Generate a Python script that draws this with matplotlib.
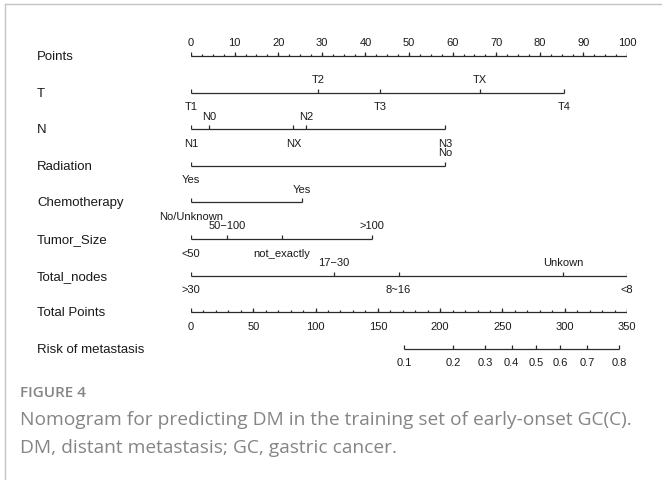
import numpy as np
import matplotlib
matplotlib.use("Agg")
import matplotlib.pyplot as plt
from matplotlib.lines import Line2D

# Nomogram rows: variable name, level labels, points for each level
row_names = ["Points", "T", "N", "Radiation", "Chemotherapy", "Tumor_Size",
             "Total_nodes", "Total Points", "Risk of metastasis"]

t_levels = ["T1", "T2", "T3", "TX", "T4"]
t_points = [0, 29.2, 43.4, 66.3, 85.6]

n_levels = ["N1", "N0", "NX", "N2", "N3"]
n_points = [0, 4.2, 23.5, 26.4, 58.3]

rad_levels = ["Yes", "No"]
rad_points = [0, 58.3]

chemo_levels = ["No/Unknown", "Yes"]
chemo_points = [0, 25.4]

size_levels = ["<50", "50\u2212100", "not_exactly", ">100"]
size_points = [0, 8.2, 20.8, 41.4]

nodes_levels = [">30", "17\u221230", "8~16", "Unkown", "<8"]
nodes_points = [0, 32.8, 47.6, 85.4, 100]

# total points scale and risk scale
total_max = 350
total_ticks = [0, 50, 100, 150, 200, 250, 300, 350]
risk_ticks = [0.1, 0.2, 0.3, 0.4, 0.5, 0.6, 0.7, 0.8]
total_at_half = 277.0      # total points where risk = 0.5
total_per_logit = 48.2     # total points per unit of linear predictor

variables = [
    (t_levels, t_points),
    (n_levels, n_points),
    (rad_levels, rad_points),
    (chemo_levels, chemo_points),
    (size_levels, size_points),
    (nodes_levels, nodes_points),
]

plt.rcParams['font.family'] = ['Liberation Sans', 'DejaVu Sans']

W, H = 662, 481
fig = plt.figure(figsize=(W / 100, H / 100), dpi=100)

row_gap = 36.6
y_first = 57.0
top_px = y_first - row_gap / 2
bot_px = y_first + row_gap * 8 + row_gap / 2
x0_px, x1_px = 191, 627
ax = fig.add_axes([x0_px / W, 1 - bot_px / H, (x1_px - x0_px) / W, (bot_px - top_px) / H])
ax.set_xlim(0, 100)
ax.set_ylim(8.5, -0.5)
ax.axis('off')

line_kw = dict(color='#2b2b2b', lw=0.9, solid_capstyle='butt')
px = 1 / row_gap          # one pixel in row units
tick_len = 4 * px
minor_len = 2 * px
txt_kw = dict(fontsize=8, color='#1a1a1a', ha='center', va='center',
              textcoords='offset points')
off_up, off_dn = 9.8, -9.8


def draw_axis(row, pos, labels, major, minor=(), side='below'):
    ax.plot([min(pos + list(minor)), max(pos + list(minor))], [row, row], **line_kw)
    for p in minor:
        ax.plot([p, p], [row, row - minor_len], **line_kw)
    for p, lab in zip(pos, labels):
        ax.plot([p, p], [row, row - major], **line_kw)
        off = off_up if side == 'above' else off_dn
        ax.annotate(lab, (p, row), xytext=(0, off), **txt_kw)


# points scale
pts_major = list(range(0, 101, 10))
pts_minor = list(np.arange(0, 100.1, 2.5))
draw_axis(0, pts_major, [str(v) for v in pts_major], tick_len, pts_minor, side='above')

# variable rows, labels alternate below/above in order of points
for i, (levels, points) in enumerate(variables):
    row = i + 1
    order = np.argsort(points)
    ax.plot([min(points), max(points)], [row, row], **line_kw)
    for k, j in enumerate(order):
        p = points[j]
        ax.plot([p, p], [row, row - tick_len], **line_kw)
        off = off_dn if k % 2 == 0 else off_up
        ax.annotate(levels[j], (p, row), xytext=(0, off), **txt_kw)

# total points scale
scale = 100 / total_max
tot_pos = [v * scale for v in total_ticks]
tot_minor = [v * scale for v in range(0, total_max + 1, 10)]
draw_axis(7, tot_pos, [str(v) for v in total_ticks], tick_len, tot_minor)

# risk scale
risk_arr = np.array(risk_ticks)
risk_total = total_at_half + total_per_logit * np.log(risk_arr / (1 - risk_arr))
risk_pos = list(risk_total * scale)
draw_axis(8, risk_pos, [f"{v:g}" for v in risk_ticks], tick_len)

# row names on the left
for i, name in enumerate(row_names):
    ax.text(-154 / 4.36, i, name, fontsize=9.5, color='#1a1a1a', ha='left', va='center')

# panel frame
frame_c = '#c4c4c4'
fig.add_artist(Line2D([5 / W, 1], [1 - 5 / H, 1 - 5 / H], color=frame_c, lw=1))
fig.add_artist(Line2D([5 / W, 5 / W], [0, 1 - 5 / H], color=frame_c, lw=1))

# caption
cap_c = '#858585'
cap_font = ['Open Sans', 'DejaVu Sans']
fig.text(20 / W, 1 - 393 / H, "FIGURE 4", fontsize=11, fontweight='semibold',
         color=cap_c, family=cap_font, va='center', ha='left')
fig.text(20 / W, 1 - 420 / H,
         "Nomogram for predicting DM in the training set of early-onset GC(C).",
         fontsize=13.8, color=cap_c, family=cap_font, va='center', ha='left')
fig.text(20 / W, 1 - 448 / H, "DM, distant metastasis; GC, gastric cancer.",
         fontsize=13.8, color=cap_c, family=cap_font, va='center', ha='left')

fig.savefig("out.png", dpi=100)
